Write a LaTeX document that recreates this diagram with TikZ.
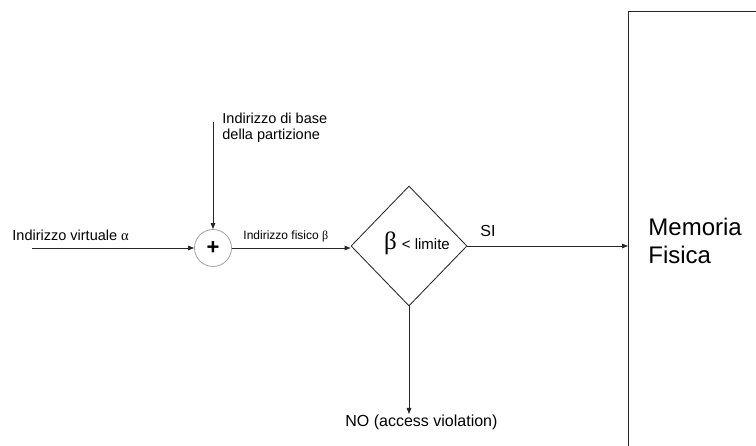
\documentclass[tikz,border=0pt]{standalone}
\usepackage{fontspec}
\setmainfont{Liberation Sans}
\newfontfamily\grk{Liberation Serif}
\usetikzlibrary{arrows.meta,shapes.geometric}
\newcommand{\px}[1]{\fontsize{#1}{#1}\selectfont}
\begin{document}
\begin{tikzpicture}[x=1pt,y=-1pt,line width=0.85pt,
  conn/.style={draw=black!85,-{Triangle[length=6pt,width=4.5pt]}},
  lbl/.style={inner sep=0pt,anchor=base west},
  box/.style={draw=black!85,rectangle,inner sep=0pt}]
\useasboundingbox (0,0) rectangle (756,446);
\clip (0,0) rectangle (756,446);

% adder
\node[circle,draw=black!35,minimum size=37pt,inner sep=0pt,font=\px{22}\bfseries] (sum) at (213,248) {+};

% comparison block
\node[diamond,draw=black!85,minimum width=116pt,minimum height=120pt,inner sep=0pt] (dia) at (409,246) {};
\node[inner sep=0pt] (cond) at (417,243) {{\grk\px{25}β}\hspace{5pt}{\px{15}< limite}};

% physical memory (runs past the right and bottom edges)
\node[box,anchor=north west,minimum width=160pt,minimum height=470pt] (mem) at (628,11) {};
\node[inner sep=0pt,anchor=west,align=left,font=\px{24}] (memlbl) at (648,241) {Memoria\\[4pt]Fisica};

% inputs
\coordinate (vin) at (32,248);
\coordinate (bin) at (213,122);
\node[lbl,font=\px{14.5}] (vlbl) at (12,241) {Indirizzo virtuale {\grk α}};
\node[inner sep=0pt,anchor=north west,align=left,font=\px{14.5}] (blbl) at (222,113) {Indirizzo di base\\[1pt]della partizione};
\node[lbl,font=\px{12}] (flbl) at (243,240) {Indirizzo fisico {\grk β}};
\node[lbl,font=\px{16}] (si) at (480,237) {SI};
\node[inner sep=0pt,anchor=north west,font=\px{16}] (no) at (345,414) {NO (access violation)};

% connectors
\draw[conn] (vin) -- (sum.west);
\draw[conn] (bin) -- (sum.north);
\draw[conn] (sum.east) -- (sum.east -| dia.west);
\draw[conn] (dia.east) -- (dia.east -| mem.west);
\draw[conn] (dia.south) -- (dia.south |- no.north);
\end{tikzpicture}
\end{document}
